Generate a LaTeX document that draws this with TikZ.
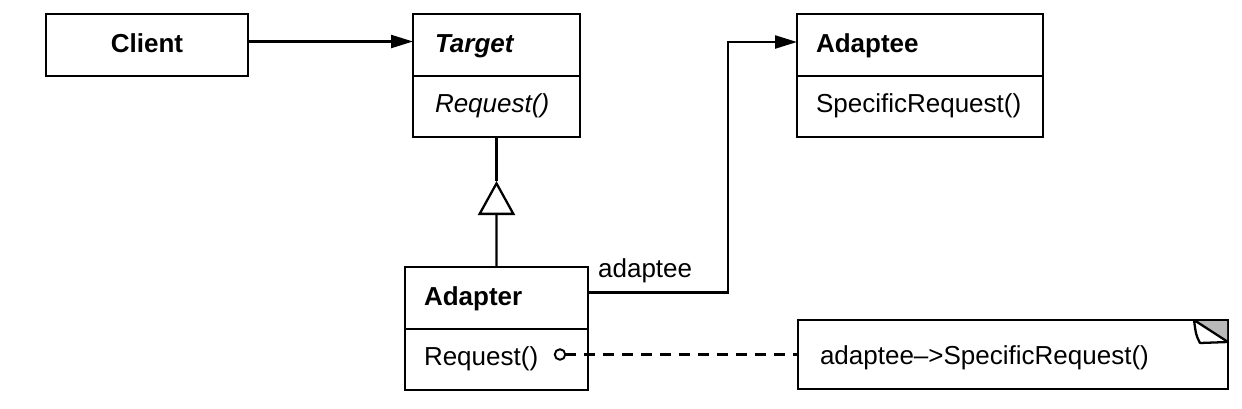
\documentclass[tikz,border=0pt]{standalone}
\usepackage{fontspec}
\setmainfont{Liberation Sans}
\usetikzlibrary{positioning,arrows.meta}

\tikzset{
  clsname/.style={draw, rectangle, line width=1.3pt, inner xsep=0.38cm, inner ysep=0pt, outer sep=0pt,
    minimum height=1.24cm, text height=0.40cm, text depth=0.12cm, align=left},
  clsops/.style={clsname, minimum height=1.22cm, text height=0.37cm, text depth=0.15cm},
  notebox/.style={draw, rectangle, line width=1.3pt, inner xsep=0.44cm, inner ysep=0pt, outer sep=0pt,
    minimum height=1.38cm, text height=0.44cm, text depth=0.06cm, align=left},
  assoc/.style={line width=1.3pt, -{Triangle[length=0.44cm, width=0.26cm]}},
  inherit/.style={line width=1.3pt, -{Triangle[open, length=0.68cm, width=0.74cm]}},
}

\begin{document}
\begin{tikzpicture}[x=1cm, y=1cm, font=\fontsize{14.8}{17}\selectfont]
      \useasboundingbox (0,0) rectangle (24.84,-8.16);
      %
      \node[clsname, align=center, text width=3.28cm, anchor=north west] (client) at (0.92,-0.28) {\textbf{Client}};
      %
      \node[clsname, inner xsep=0.44cm, text width=2.46cm, anchor=north west] (target) at (8.26,-0.28) {\textbf{\textit{Target}}};
      \node[clsops, inner xsep=0.44cm, text width=2.46cm, below=0pt of target] (targetops) {\textit{Request()}};
      %
      \node[clsname, text width=4.16cm, anchor=north west] (adaptee) at (15.94,-0.28) {\textbf{Adaptee}};
      \node[clsops, text width=4.16cm, below=0pt of adaptee] (adapteeops) {SpecificRequest()};
      %
      \node[clsname, text width=2.90cm, anchor=north west] (adapter) at (8.10,-5.34) {\textbf{Adapter}};
      \node[clsops, text width=2.90cm, below=0pt of adapter] (adapterops) {Request()};
      %
      \node[notebox, text width=7.72cm, anchor=north west] (note) at (15.96,-6.40) {adaptee\textendash>SpecificRequest()};
      %
      \draw[assoc] ([yshift=0.7mm]client.east) -- ([yshift=0.7mm]target.west);   % client uses target
      %
      \coordinate (genapex) at ([yshift=-0.88cm]targetops.south);                 % generalization
      \draw[line width=1.3pt] (targetops.south) -- (genapex);
      \draw[inherit] (adapter.north) -- (genapex);
      %
      \draw[assoc] ([yshift=1.1mm]adapter.east)                                    % adaptee link
          node[anchor=base west, inner sep=0pt, xshift=0.18cm, yshift=0.30cm] (rolelabel) {adaptee}
          -- ++(2.80,0) |- ([yshift=0.6mm]adaptee.west);
      %
      \node[circle, draw, line width=1.1pt, minimum size=0.21cm, inner sep=0pt, outer sep=0pt] (reqdot) at (11.20,-7.09) {};
      \draw[line width=1.3pt, dash pattern=on 0.22cm off 0.16cm] (reqdot) -- (note);
      %
      \begin{scope}[shift={(note.north east)}]                                     % dog ear
        \fill[gray!55] (-0.68,-0.02) -- (-0.02,-0.02) -- (-0.02,-0.44) -- cycle;
        \draw[line width=1.3pt, fill=white, line join=round]
          (-0.68,0) .. controls (-0.64,-0.30) .. (-0.56,-0.46) -- (0,-0.44) -- cycle;
      \end{scope}
      %
    \end{tikzpicture}
\end{document}
